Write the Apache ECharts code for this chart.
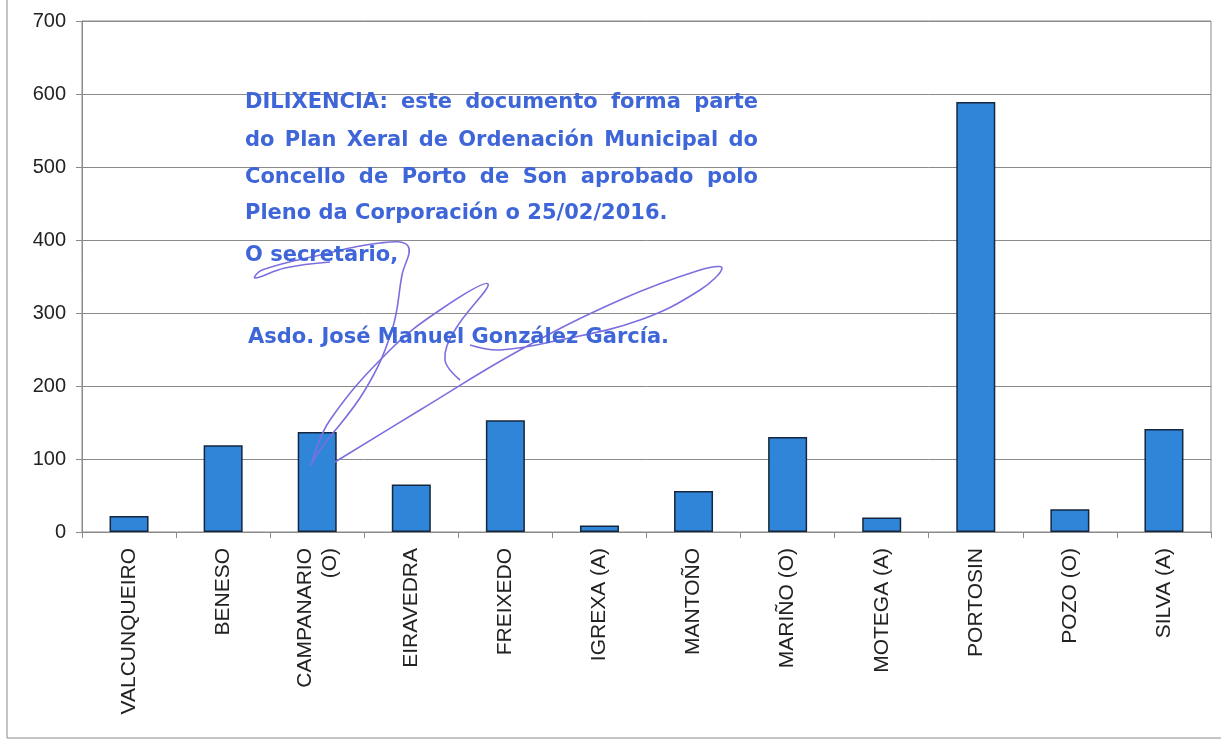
<!DOCTYPE html>
<html>
<head>
<meta charset="utf-8">
<script src="https://cdn.jsdelivr.net/npm/echarts@6/dist/echarts.min.js"></script>
<style>
  html, body { margin: 0; padding: 0; background: #fff; }
  #main { width: 1221px; height: 742px; }
</style>
</head>
<body>
<div id="main"></div>
<script>
const categories = ["VALCUNQUEIRO", "BENESO", "CAMPANARIO\n(O)", "EIRAVEDRA", "FREIXEDO", "IGREXA (A)",
  "MANTOÑO", "MARIÑO (O)", "MOTEGA (A)", "PORTOSIN", "POZO (O)", "SILVA (A)"];
const values = [22, 119, 137, 65, 153, 9, 56, 130, 20, 589, 31, 141];
const yTicks = [0, 100, 200, 300, 400, 500, 600, 700];

// texto do selo (dilixencia); as tres primeiras liñas van xustificadas
const stampLines = [
  "DILIXENCIA: este documento forma parte",
  "do Plan Xeral de Ordenación Municipal do",
  "Concello de Porto de Son aprobado polo",
  "Pleno da Corporación o 25/02/2016.",
  "O secretario,",
  "Asdo. José Manuel González García."
];

let chart = echarts.init(document.getElementById("main"));
const ink = "#3f66d8";
const pen = "#7b6fe0";
const stampFont = "bold 21px 'DejaVu Sans', sans-serif";

// medir palabras para xustificar
let ctx = document.createElement("canvas").getContext("2d");
ctx.font = stampFont;

const stampLeft = 245, stampWidth = 513;
const stampTops = [92, 130, 167, 203, 245, 327];
let stampText = [];
stampLines.forEach((line, i) => {
  let left = i === 5 ? 248 : stampLeft;
  if (i < 3) {
    let words = line.split(" ");
    let total = words.reduce((s, w) => s + ctx.measureText(w).width, 0);
    let gap = (stampWidth - total) / (words.length - 1);
    let x = left;
    words.forEach(w => {
      stampText.push({
        type: "text", left: x, top: stampTops[i], z: 100,
        style: { text: w, font: stampFont, fill: ink }
      });
      x += ctx.measureText(w).width + gap;
    });
  } else {
    stampText.push({
      type: "text", left: left, top: stampTops[i], z: 100,
      style: { text: line, font: stampFont, fill: ink }
    });
  }
});

// sinatura aproximada
const signature = [
  [[330, 262], [285, 268], [255, 278], [262, 270], [320, 255], [380, 243], [408, 246], [402, 275], [392, 330], [365, 390], [320, 450], [310, 466]],
  [[312, 462], [330, 420], [390, 350], [440, 310], [488, 284], [455, 330], [445, 360], [460, 380]],
  [[335, 462], [420, 410], [520, 350], [620, 300], [700, 270], [722, 268], [700, 290], [640, 320], [560, 340], [500, 350], [470, 345]]
];
signature.forEach(pts => {
  stampText.push({
    type: "polyline", z: 99, silent: true,
    shape: { points: pts, smooth: 0.4 },
    style: { stroke: pen, lineWidth: 1.6, fill: null }
  });
});

let option = {
  animation: false,
  backgroundColor: "#fff",
  grid: { left: 82, right: 10, top: 21, bottom: 210, show: true, borderColor: "#8a8a8a", borderWidth: 1 },
  xAxis: {
    type: "category",
    data: categories,
    axisLine: { lineStyle: { color: "#8a8a8a", width: 1 } },
    axisTick: { show: true, length: 6, lineStyle: { color: "#8a8a8a" } },
    axisLabel: {
      rotate: 90, interval: 0, margin: 16,
      fontSize: 21, color: "#222", fontFamily: "'Liberation Sans', Arial, sans-serif",
      lineHeight: 25
    }
  },
  yAxis: {
    type: "value",
    min: yTicks[0], max: yTicks[yTicks.length - 1], interval: 100,
    axisLine: { show: true, lineStyle: { color: "#8a8a8a", width: 1 } },
    axisTick: { show: true, length: 6, lineStyle: { color: "#8a8a8a" } },
    axisLabel: { fontSize: 20, color: "#222", margin: 16, fontFamily: "'Liberation Sans', Arial, sans-serif" },
    splitLine: { lineStyle: { color: "#8a8a8a", width: 1 } }
  },
  series: [
    {
      type: "bar",
      data: values,
      barWidth: 39,
      itemStyle: { color: "#2f86d9", borderColor: "#16263d", borderWidth: 1.5 }
    }
  ],
  graphic: [
    {
      type: "polyline", silent: true,
      shape: { points: [[7, 0], [7, 738], [1221, 738]] },
      style: { stroke: "#8a8a8a", lineWidth: 1, fill: null }
    }
  ].concat(stampText)
};
chart.setOption(option);
</script>
</body>
</html>
